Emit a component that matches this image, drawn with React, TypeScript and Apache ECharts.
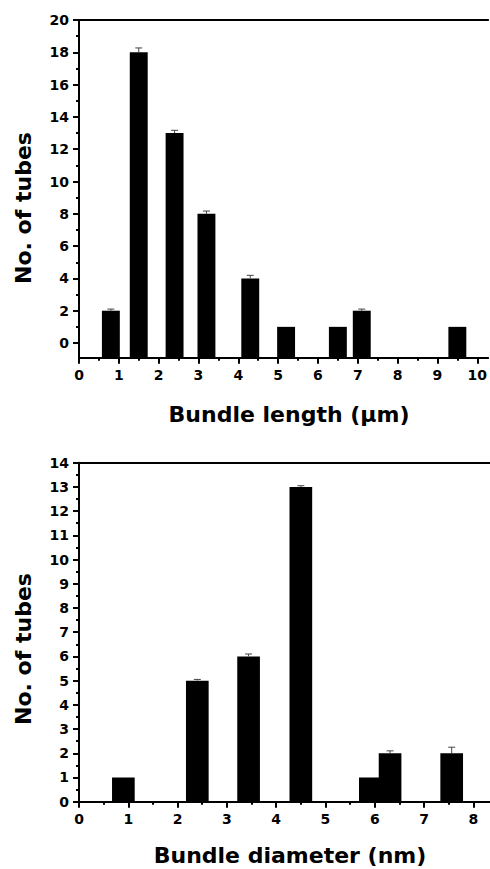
import React, { useEffect, useRef } from "react";
import * as echarts from "echarts";

// ---- Data ----
const lengthBins = [0.8, 1.5, 2.4, 3.2, 4.3, 5.2, 6.5, 7.1, 9.5];
const lengthCounts = [2, 18, 13, 8, 4, 1, 1, 2, 1];
const lengthErrors = [0.1, 0.27, 0.17, 0.17, 0.19, 0, 0, 0.1, 0];

const diameterBins = [0.9, 2.4, 3.44, 4.5, 5.91, 6.31, 7.56];
const diameterCounts = [1, 5, 6, 13, 1, 2, 2];
const diameterErrors = [0, 0.05, 0.1, 0.05, 0, 0.1, 0.25];

const lengthTicks = [0, 1, 2, 3, 4, 5, 6, 7, 8, 9, 10];
const lengthMinorTicks = [0.5, 1.5, 2.5, 3.5, 4.5, 5.5, 6.5, 7.5, 8.5, 9.5];
const count1Ticks = [0, 2, 4, 6, 8, 10, 12, 14, 16, 18, 20];
const count1MinorTicks = [1, 3, 5, 7, 9, 11, 13, 15, 17, 19];

const diameterTicks = [0, 1, 2, 3, 4, 5, 6, 7, 8];
const diameterMinorTicks = [0.5, 1.5, 2.5, 3.5, 4.5, 5.5, 6.5, 7.5];
const count2Ticks = [0, 1, 2, 3, 4, 5, 6, 7, 8, 9, 10, 11, 12, 13, 14];
const count2MinorTicks = [0.5, 1.5, 2.5, 3.5, 4.5, 5.5, 6.5, 7.5, 8.5, 9.5, 10.5, 11.5, 12.5, 13.5];

const FONT = '"DejaVu Sans", "Liberation Sans", Arial, sans-serif';

function makeRender(barWidth: number) {
  return (params: any, api: any) => {
    const x = api.value(0);
    const v = api.value(1);
    const e = api.value(2);
    const cs = params.coordSys;
    const baseY = cs.y + cs.height;
    const l = api.coord([x - barWidth / 2, v]);
    const r = api.coord([x + barWidth / 2, v]);
    const children: any[] = [
      {
        type: "rect",
        shape: { x: l[0], y: l[1], width: r[0] - l[0], height: baseY - l[1] },
        style: { fill: "#000" },
      },
    ];
    if (e > 0) {
      const t = api.coord([x, v + e]);
      children.push({
        type: "line",
        shape: { x1: t[0], y1: l[1], x2: t[0], y2: t[1] },
        style: { stroke: "#444", lineWidth: 1 },
      });
      children.push({
        type: "line",
        shape: { x1: t[0] - 3.5, y1: t[1], x2: t[0] + 3.5, y2: t[1] },
        style: { stroke: "#444", lineWidth: 1 },
      });
    }
    return { type: "group", children };
  };
}

const axisLineStyle = { lineStyle: { color: "#000", width: 2 } };
const labelStyle = { color: "#000", fontSize: 14, fontWeight: "bold" as const, fontFamily: FONT };

function majorX(grid: number, min: number, max: number, ticks: number[]) {
  return {
    type: "value",
    gridIndex: grid,
    position: "bottom",
    min,
    max,
    axisLine: { show: true, onZero: false, ...axisLineStyle },
    axisTick: { show: true, customValues: ticks, length: 6, lineStyle: { color: "#000", width: 2 } },
    axisLabel: { show: true, customValues: ticks, margin: 10, ...labelStyle },
    splitLine: { show: false },
  };
}
function minorX(grid: number, min: number, max: number, ticks: number[]) {
  return {
    type: "value",
    gridIndex: grid,
    position: "bottom",
    min,
    max,
    axisLine: { show: false, onZero: false },
    axisTick: { show: true, customValues: ticks, length: 3, lineStyle: { color: "#000", width: 2 } },
    axisLabel: { show: false },
    splitLine: { show: false },
  };
}
function topX(grid: number, min: number, max: number) {
  return {
    type: "value",
    gridIndex: grid,
    position: "top",
    min,
    max,
    axisLine: { show: true, onZero: false, ...axisLineStyle },
    axisTick: { show: false },
    axisLabel: { show: false },
    splitLine: { show: false },
  };
}
function majorY(grid: number, min: number, max: number, ticks: number[]) {
  return {
    type: "value",
    gridIndex: grid,
    position: "left",
    min,
    max,
    axisLine: { show: true, onZero: false, ...axisLineStyle },
    axisTick: { show: true, customValues: ticks, length: 6, lineStyle: { color: "#000", width: 2 } },
    axisLabel: { show: true, customValues: ticks, margin: 10, ...labelStyle },
    splitLine: { show: false },
  };
}
function minorY(grid: number, min: number, max: number, ticks: number[]) {
  return {
    type: "value",
    gridIndex: grid,
    position: "left",
    min,
    max,
    axisLine: { show: false, onZero: false },
    axisTick: { show: true, customValues: ticks, length: 3, lineStyle: { color: "#000", width: 2 } },
    axisLabel: { show: false },
    splitLine: { show: false },
  };
}

export default function App() {
  const ref = useRef<HTMLDivElement>(null);
  useEffect(() => {
    if (!ref.current) return;
    const chart = echarts.init(ref.current, null, { renderer: "svg" });
    const lenData = lengthBins.map((b, i) => [b, lengthCounts[i], lengthErrors[i]]);
    const diaData = diameterBins.map((b, i) => [b, diameterCounts[i], diameterErrors[i]]);
    const x1Max = 10.275;
    const y1Min = -0.91;
    const x2Max = 8.337;
    chart.setOption({
      animation: false,
      backgroundColor: "#fff",
      grid: [
        { left: 79, top: 20, width: 411, height: 337.7, containLabel: false },
        { left: 79, top: 462.7, width: 411, height: 339, containLabel: false },
      ],
      xAxis: [
        majorX(0, 0, x1Max, lengthTicks),
        minorX(0, 0, x1Max, lengthMinorTicks),
        topX(0, 0, x1Max),
        majorX(1, 0, x2Max, diameterTicks),
        minorX(1, 0, x2Max, diameterMinorTicks),
        topX(1, 0, x2Max),
      ],
      yAxis: [
        majorY(0, y1Min, 20, count1Ticks),
        minorY(0, y1Min, 20, count1MinorTicks),
        majorY(1, 0, 14, count2Ticks),
        minorY(1, 0, 14, count2MinorTicks),
      ],
      series: [
        {
          type: "custom",
          xAxisIndex: 0,
          yAxisIndex: 0,
          renderItem: makeRender(0.45),
          data: lenData,
          encode: { x: 0, y: 1 },
        },
        {
          type: "custom",
          xAxisIndex: 3,
          yAxisIndex: 2,
          renderItem: makeRender(0.46),
          data: diaData,
          encode: { x: 0, y: 1 },
        },
      ],
      graphic: [
        {
          type: "text",
          x: 289,
          y: 414,
          style: {
            text: "Bundle length (μm)",
            font: `bold 22px ${FONT}`,
            fill: "#000",
            align: "center",
            verticalAlign: "middle",
          },
        },
        {
          type: "text",
          x: 290,
          y: 855,
          style: {
            text: "Bundle diameter (nm)",
            font: `bold 22px ${FONT}`,
            fill: "#000",
            align: "center",
            verticalAlign: "middle",
          },
        },
        {
          type: "text",
          x: 23,
          y: 208,
          rotation: Math.PI / 2,
          style: {
            text: "No. of tubes",
            font: `bold 22px ${FONT}`,
            fill: "#000",
            align: "center",
            verticalAlign: "middle",
          },
        },
        {
          type: "text",
          x: 23,
          y: 649,
          rotation: Math.PI / 2,
          style: {
            text: "No. of tubes",
            font: `bold 22px ${FONT}`,
            fill: "#000",
            align: "center",
            verticalAlign: "middle",
          },
        },
      ],
    });
    return () => chart.dispose();
  }, []);
  return (
    <div
      ref={ref}
      style={{ position: "absolute", left: 0, top: 0, width: 490, height: 869, background: "#fff" }}
    />
  );
}
